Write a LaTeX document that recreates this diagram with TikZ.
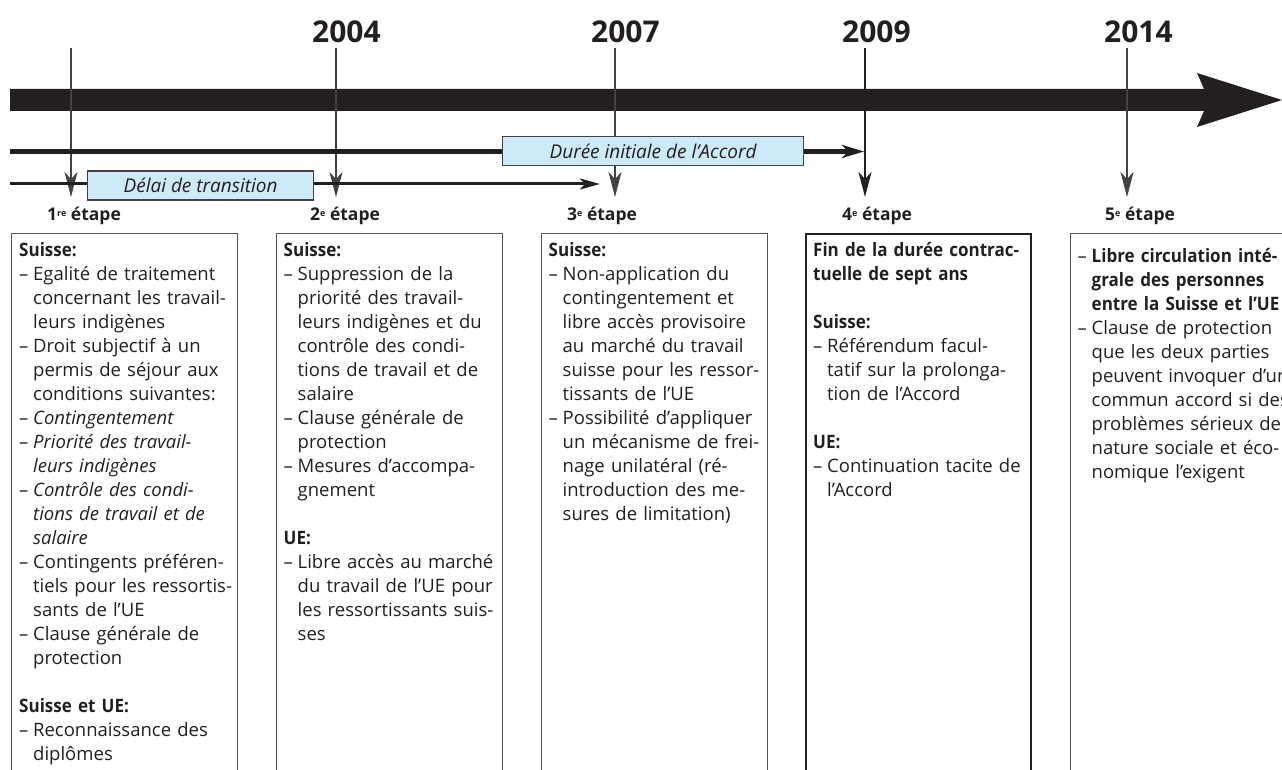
\documentclass[tikz,border=0pt]{standalone}
\usepackage{fontspec}
\setmainfont{Open Sans}[BoldFeatures={FakeStretch=0.92}]
\newfontfamily\headfont{Open Sans}
\usetikzlibrary{arrows.meta}
\definecolor{ink}{HTML}{231F20}
\definecolor{paleblue}{HTML}{CDEAF8}
\definecolor{framegray}{HTML}{555555}
\newcommand\bodyfont{\fontsize{18.5}{24}\selectfont}
\newcommand\di{\makebox[14pt][l]{–}}
\newcommand\ci{\hspace*{14pt}}
\newcommand\sups[1]{\raisebox{5pt}{\fontsize{9}{9}\selectfont #1}}
\begin{document}
\begin{tikzpicture}[x=1pt,y=-1pt,
  yearlbl/.style={anchor=base west, inner sep=0pt, font=\headfont\fontsize{30}{36}\selectfont\bfseries, text=ink},
  etapelbl/.style={anchor=base west, inner sep=0pt, font=\headfont\fontsize{17.5}{20}\selectfont\bfseries, text=ink},
  vline/.style={draw=ink!85, line width=1.1pt, -{Stealth[length=25pt,width=13pt,inset=7pt]}},
  vlinebold/.style={draw=ink, line width=2pt, -{Stealth[length=25pt,width=13pt,inset=7pt]}},
  midline/.style={draw=ink, line width=5pt, -{Stealth[length=22pt,width=13pt,inset=6pt]}},
  thinline/.style={draw=ink, line width=3pt, -{Stealth[length=20pt,width=11pt,inset=5pt]}},
  periodbox/.style={draw=ink!85, line width=1.2pt, fill=paleblue, inner sep=0pt, text=ink,
     font=\fontsize{19}{22}\selectfont\itshape, anchor=north west},
  framebox/.style={draw=framegray, line width=1pt, anchor=north west, inner sep=0pt, minimum width=226pt, minimum height=600pt},
  framebold/.style={draw=ink, line width=2pt, anchor=north west, inner sep=0pt, minimum width=225pt, minimum height=600pt},
  boxtext/.style={anchor=north west, inner sep=0pt, text width=250pt, align=left, font=\bodyfont, text=ink}
]
\useasboundingbox (0,0) rectangle (1282,770);
\clip (0,0) rectangle (1282,770);

% main time bar
\fill[ink] (10,89) -- (1204,89) -- (1197,73) -- (1282,100) -- (1197,127) -- (1204,111) -- (10,111) -- cycle;

% years
\node[yearlbl] (y2004) at (312,43) {2004};
\node[yearlbl] (y2007) at (591,43) {2007};
\node[yearlbl] (y2009) at (842,43) {2009};
\node[yearlbl] (y2014) at (1104,43) {2014};

% vertical markers
\coordinate (v1t) at (71,48);   \coordinate (v1b) at (71,197);
\coordinate (v2t) at (336,48);  \coordinate (v2b) at (336,197);
\coordinate (v3t) at (615,48);  \coordinate (v3b) at (615,197);
\coordinate (v4t) at (865,48);  \coordinate (v4b) at (865,197);
\coordinate (v5t) at (1127,48); \coordinate (v5b) at (1127,197);
\draw[vline] (v1t) -- (v1b);
\draw[vline] (v2t) -- (v2b);
\draw[vline] (v3t) -- (v3b);
\draw[vlinebold] (v4t) -- (v4b);
\draw[vline] (v5t) -- (v5b);

% duration lines
\coordinate (d0) at (10,151.5); \coordinate (d1) at (864,151.5);
\draw[midline] (d0) -- (d1);
\coordinate (l0) at (10,184); \coordinate (l1) at (600,184);
\draw[thinline] (l0) -- (l1);

\node[periodbox, minimum width=301pt, minimum height=29pt] (duree) at (502,136) {Durée initiale de l’Accord};
\node[periodbox, minimum width=226pt, minimum height=29pt] (delai) at (87,170.5) {Délai de transition};

% stage labels
\node[etapelbl] (e1) at (47,221) {1\sups{re} étape};
\node[etapelbl] (e2) at (310,221) {2\sups{e} étape};
\node[etapelbl] (e3) at (567,221) {3\sups{e} étape};
\node[etapelbl] (e4) at (842,221) {4\sups{e} étape};
\node[etapelbl] (e5) at (1105,221) {5\sups{e} étape};

% frames
\node[framebox] (f1) at (11,233) {};
\node[framebox] (f2) at (275.5,233) {};
\node[framebox] (f3) at (540.5,233) {};
\node[framebold] (f4) at (805,233) {};
\node[framebox] (f5) at (1069.5,233) {};

% texts
\node[boxtext] (x1) at (19,239.2) {\strut\textbf{Suisse:}\\
\di Egalité de traitement\\
\ci concernant les travail-\\
\ci leurs indigènes\\
\di Droit subjectif à un\\
\ci permis de séjour aux\\
\ci conditions suivantes:\\
\di\textit{Contingentement}\\
\di\textit{Priorité des travail-}\\
\ci\textit{leurs indigènes}\\
\di\textit{Contrôle des condi-}\\
\ci\textit{tions de travail et de}\\
\ci\textit{salaire}\\
\di Contingents préféren-\\
\ci tiels pour les ressortis-\\
\ci sants de l’UE\\
\di Clause générale de\\
\ci protection\\
\mbox{}\\
\textbf{Suisse et UE:}\\
\di Reconnaissance des\\
\ci diplômes};

\node[boxtext] (x2) at (283.5,239.2) {\strut\textbf{Suisse:}\\
\di Suppression de la\\
\ci priorité des travail-\\
\ci leurs indigènes et du\\
\ci contrôle des condi-\\
\ci tions de travail et de\\
\ci salaire\\
\di Clause générale de\\
\ci protection\\
\di Mesures d’accompa-\\
\ci gnement\\
\mbox{}\\
\textbf{UE:}\\
\di Libre accès au marché\\
\ci du travail de l’UE pour\\
\ci les ressortissants suis-\\
\ci ses};

\node[boxtext] (x3) at (548.5,239.2) {\strut\textbf{Suisse:}\\
\di Non-application du\\
\ci contingentement et\\
\ci libre accès provisoire\\
\ci au marché du travail\\
\ci suisse pour les ressor-\\
\ci tissants de l’UE\\
\di Possibilité d’appliquer\\
\ci un mécanisme de frei-\\
\ci nage unilatéral (ré-\\
\ci introduction des me-\\
\ci sures de limitation)};

\node[boxtext] (x4) at (813,239.2) {\strut\textbf{Fin de la durée contrac-}\\
\textbf{tuelle de sept ans}\\
\mbox{}\\
\textbf{Suisse:}\\
\di Référendum facul-\\
\ci tatif sur la prolonga-\\
\ci tion de l’Accord\\
\mbox{}\\
\textbf{UE:}\\
\di Continuation tacite de\\
\ci l’Accord};

\node[boxtext] (x5) at (1077.5,245.5) {\strut\di\textbf{Libre circulation inté-}\\
\ci\textbf{grale des personnes}\\
\ci\textbf{entre la Suisse et l’UE}\\
\di Clause de protection\\
\ci que les deux parties\\
\ci peuvent invoquer d’un\\
\ci commun accord si des\\
\ci problèmes sérieux de\\
\ci nature sociale et éco-\\
\ci nomique l’exigent};
\end{tikzpicture}
\end{document}
